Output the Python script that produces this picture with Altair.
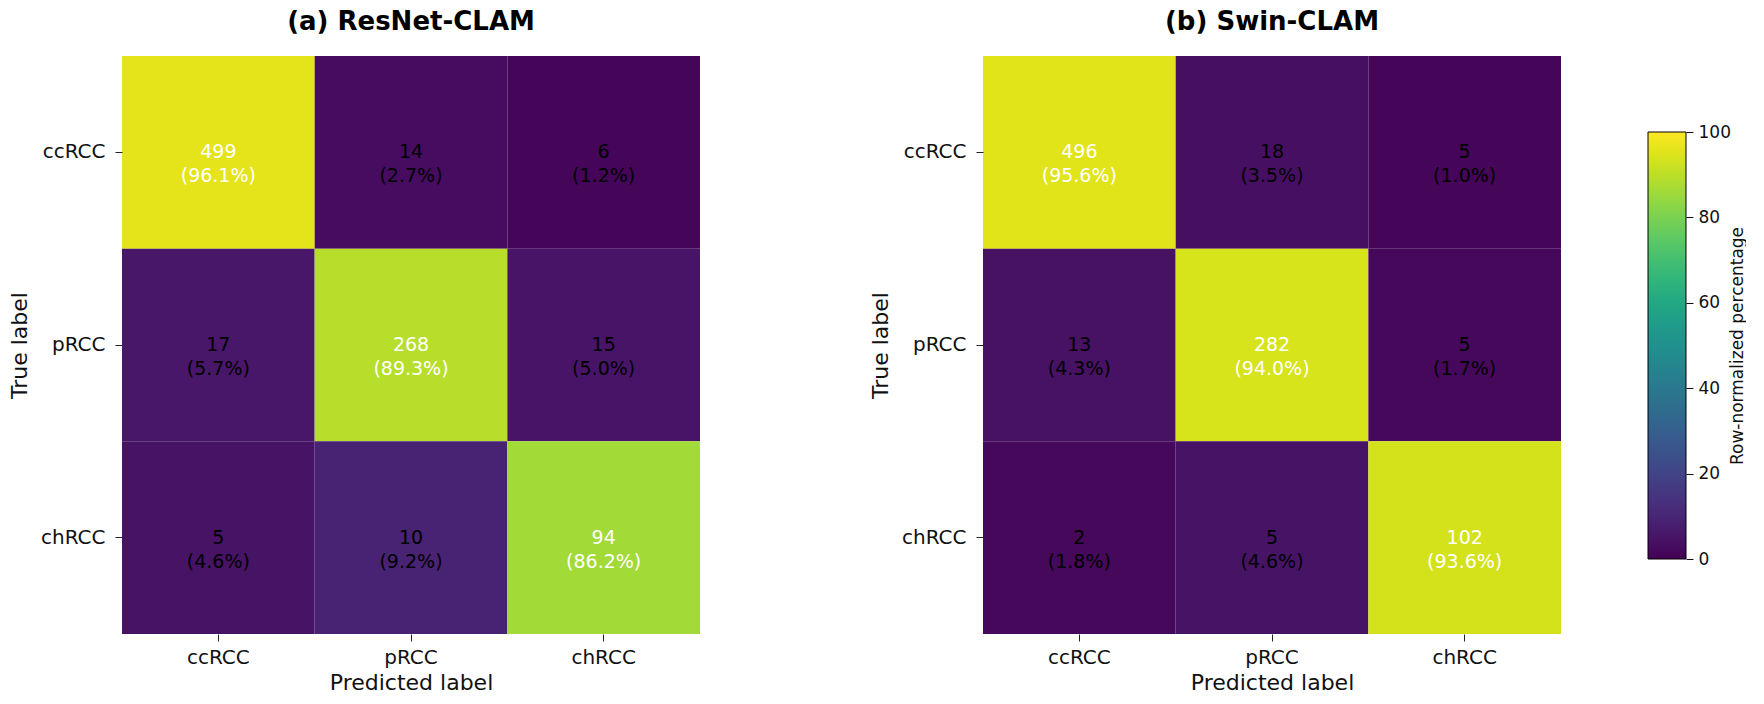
import altair as alt
import pandas as pd

classes = ["ccRCC", "pRCC", "chRCC"]

resnet_counts = [[499, 14, 6], [17, 268, 15], [5, 10, 94]]
resnet_pct = [[96.1, 2.7, 1.2], [5.7, 89.3, 5.0], [4.6, 9.2, 86.2]]

swin_counts = [[496, 18, 5], [13, 282, 5], [2, 5, 102]]
swin_pct = [[95.6, 3.5, 1.0], [4.3, 94.0, 1.7], [1.8, 4.6, 93.6]]

cbar_ticks = [0, 20, 40, 60, 80, 100]
cbar_title = "Row-normalized percentage"

FONT = "DejaVu Sans"


def make_df(counts, pct):
    rows = []
    for i, t in enumerate(classes):
        for j, p in enumerate(classes):
            rows.append({
                "true": t,
                "pred": p,
                "count": counts[i][j],
                "pct": pct[i][j],
                "label": f"{counts[i][j]}\n({pct[i][j]:.1f}%)",
            })
    return pd.DataFrame(rows)


def heatmap(df, legend):
    x = alt.X("pred:N", sort=classes, title="Predicted label",
              scale=alt.Scale(paddingInner=0, paddingOuter=0),
              axis=alt.Axis(labelAngle=0, domain=False, grid=False, ticks=True,
                            tickSize=7, tickColor="#222", labelFontSize=20,
                            labelPadding=6, titleFontSize=22, titlePadding=5,
                            titleFontWeight="normal", labelColor="#111", titleColor="#111",
                            labelFont=FONT, titleFont=FONT))
    y = alt.Y("true:N", sort=classes, title="True label",
              scale=alt.Scale(paddingInner=0, paddingOuter=0),
              axis=alt.Axis(domain=False, grid=False, ticks=True, tickSize=7,
                            tickColor="#222", labelFontSize=20, labelPadding=10,
                            titleFontSize=22, titlePadding=9, titleFontWeight="normal",
                            labelColor="#111", titleColor="#111",
                            labelFont=FONT, titleFont=FONT))
    color = alt.Color("pct:Q", scale=alt.Scale(scheme="viridis", domain=[0, 100]),
                      legend=legend)
    base = alt.Chart(df)
    rect = base.mark_rect().encode(x=x, y=y, color=color)
    text = base.mark_text(fontSize=19, font=FONT, lineBreak="\n", lineHeight=24,
                          baseline="middle", align="center").encode(
        x=alt.X("pred:N", sort=classes),
        y=alt.Y("true:N", sort=classes),
        text="label:N",
        color=alt.condition(alt.datum.pct > 50, alt.value("white"), alt.value("black")),
    )
    return alt.layer(rect, text)


def titled(chart, title):
    return chart.properties(
        width=578, height=578,
        title=alt.Title(title, fontSize=26, fontWeight="bold", font=FONT,
                        color="#000", offset=21, anchor="middle", frame="group"),
    )


legend = alt.Legend(
    orient="none", legendX=665, legendY=76, direction="vertical",
    title=None, labelExpr="''", labelOpacity=0,
    gradientLength=427, gradientThickness=38, gradientStrokeColor="black",
    gradientStrokeWidth=1, padding=0,
)

# colorbar axis (ticks, labels, title) drawn with a quantitative scale
cbar_axis = alt.Chart(pd.DataFrame({"v": cbar_ticks})).mark_point(opacity=0).encode(
    x=alt.value(703),
    y=alt.Y("v:Q", scale=alt.Scale(domain=[0, 100], range=[503, 76], nice=False, zero=False),
            title=cbar_title,
            axis=alt.Axis(orient="right", offset=125, values=cbar_ticks, domain=False,
                          grid=False, ticks=True, tickSize=7, tickColor="#111",
                          tickWidth=1, labelPadding=5, labelFontSize=17, labelFont=FONT,
                          labelColor="#111", labelFlush=False, labelOverlap=False,
                          titleFontSize=17, titleFont=FONT, titleFontWeight="normal",
                          titleColor="#111", titleAngle=270, titlePadding=16)),
)

left = titled(heatmap(make_df(resnet_counts, resnet_pct), None), "(a) ResNet-CLAM")
right = titled(
    alt.layer(heatmap(make_df(swin_counts, swin_pct), legend), cbar_axis).resolve_scale(
        y="independent"
    ),
    "(b) Swin-CLAM",
)

chart = alt.hconcat(left, right, spacing=283, bounds="flush").resolve_scale(
    color="independent"
).properties(
    padding={"left": 8, "top": 9, "right": 0, "bottom": 0},
    background="white",
).configure_view(stroke=None)

chart.save("out.html", embed_options={"renderer": "svg", "actions": False})
